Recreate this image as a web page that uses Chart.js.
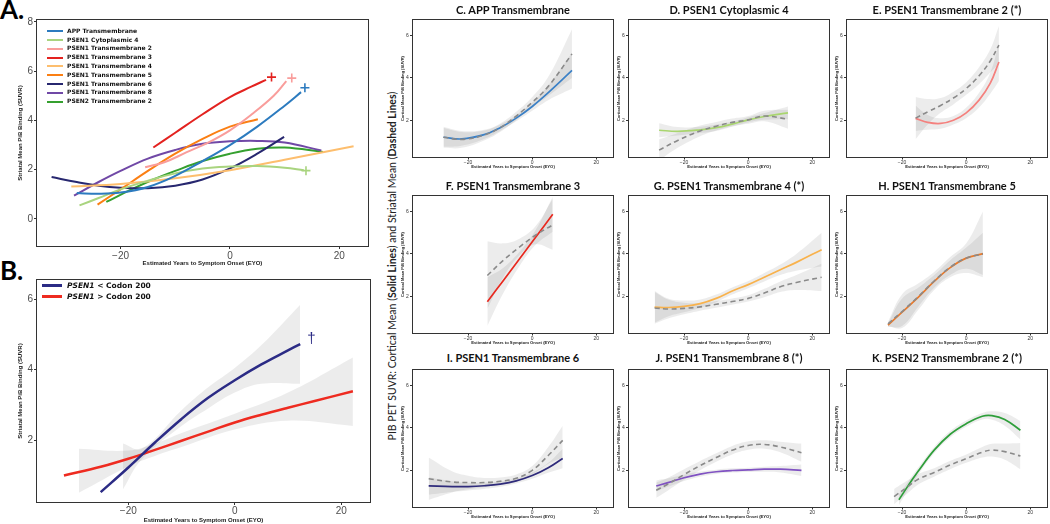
<!DOCTYPE html>
<html><head><meta charset="utf-8">
<script src="https://cdn.jsdelivr.net/npm/chart.js@4.4.1/dist/chart.umd.min.js"></script>
<style>
html,body{margin:0;padding:0;background:#fff}
body{width:1050px;height:524px;position:relative;overflow:hidden}
.cw{position:absolute}
.lbl{position:absolute;font-family:Lato,sans-serif;font-weight:700;font-size:26px;line-height:26px;color:#000}
.ttl{position:absolute;font-family:Lato,sans-serif;font-weight:700;font-size:11px;line-height:12px;text-align:center;color:#111;white-space:nowrap}
.leg{position:absolute;font-family:'DejaVu Sans',sans-serif;font-weight:700;color:#111;white-space:nowrap}
.leg .row{position:relative}
.leg .sw{position:absolute;left:0;display:block}
#ylab{position:absolute;font-family:Lato,sans-serif;font-size:10.5px;line-height:12px;white-space:nowrap;color:#222;transform:translate(-50%,-50%) rotate(-90deg)}
</style></head><body>
<div class="lbl" style="left:0;top:-4px">A.</div>
<div class="lbl" style="left:0;top:257px">B.</div>
<div id="ylab" style="left:392px;top:266px">PIB PET SUVR: Cortical Mean (<b>Solid Lines</b>) and Striatal Mean (<b>Dashed Lines</b>)</div>
<script>
// ---------- tick values ----------
const X_TICKS = [-20, 0, 20];
const Y_TICKS_A = [0, 2, 4, 6, 8];
const Y_TICKS_B = [2, 4, 6];
const Y_TICKS_SMALL = [2, 4, 6];

// ---------- Panel A (striatal mean, all groups) ----------
const A_NAMES = ['APP Transmembrane','PSEN1 Cytoplasmic 4','PSEN1 Transmembrane 2','PSEN1 Transmembrane 3','PSEN1 Transmembrane 4','PSEN1 Transmembrane 5','PSEN1 Transmembrane 6','PSEN1 Transmembrane 8','PSEN2 Transmembrane 2'];
const A_APP_X = [-28,-24,-20,-15,-10,-5,0,5,10,13];
const A_APP_Y = [1.05,1.02,1.07,1.3,1.75,2.35,3.0,3.75,4.6,5.15];
const A_CYT_X = [-27.5,-24,-20,-15,-10,-5,0,5,10,13.5];
const A_CYT_Y = [0.55,0.85,1.2,1.55,1.85,2.05,2.13,2.15,2.08,1.98];
const A_TM2_X = [-15.5,-12,-8,-4,0,4,8,10.3];
const A_TM2_Y = [2.1,2.3,2.7,3.1,3.6,4.25,5.0,5.6];
const A_TM3_X = [-14,-10,-5,0,4,6.6];
const A_TM3_Y = [2.9,3.5,4.25,4.95,5.38,5.65];
const A_TM4_X = [-29,-20,-10,0,10,22.6];
const A_TM4_Y = [1.32,1.42,1.65,1.98,2.4,2.95];
const A_TM5_X = [-24.2,-20,-15,-10,-5,0,5.1];
const A_TM5_Y = [0.58,1.2,1.95,2.65,3.25,3.75,4.05];
const A_TM6_X = [-32.6,-28,-24,-20,-15,-10,-5,0,5,9.9];
const A_TM6_Y = [1.7,1.5,1.35,1.27,1.25,1.35,1.6,2.05,2.65,3.33];
const A_TM8_X = [-28.5,-24,-20,-15,-10,-5,0,5,10,16.7];
const A_TM8_Y = [0.95,1.5,1.95,2.45,2.8,3.05,3.15,3.17,3.1,2.78];
const A_PS2_X = [-22.6,-18,-14,-10,-5,0,5,10,17];
const A_PS2_Y = [0.69,1.2,1.6,1.95,2.35,2.65,2.85,2.9,2.72];
const A_PLUS_X = [13.7,13.9,11.3,7.6];
const A_PLUS_Y = [5.33,1.96,5.72,5.76];

// ---------- Panel B ----------
const B_NAMES = ['PSEN1 < Codon 200','PSEN1 > Codon 200'];
const B_LOW_X = [-25.2,-20,-15,-10,-5,0,5,10,12.3];
const B_LOW_Y = [0.52,1.22,1.93,2.6,3.2,3.7,4.15,4.55,4.73];
const B_LOW_BX = [-21,-17.5,-10,-5,0,5,12.3];
const B_LOW_LO = [0.6,1.45,2.4,2.9,3.35,3.6,3.6];
const B_LOW_HI = [1.9,1.75,2.85,3.5,4.05,4.7,5.85];
const B_HIGH_X = [-32.1,-25,-20,-15,-10,-5,0,5,10,15,22.2];
const B_HIGH_Y = [0.99,1.25,1.47,1.72,1.98,2.24,2.5,2.72,2.92,3.11,3.39];
const B_HIGH_BX = [-29.3,-20,-15,-10,0,10,22.2];
const B_HIGH_LO = [0.5,1.25,1.55,1.8,2.3,2.55,2.4];
const B_HIGH_HI = [1.75,1.7,1.9,2.2,2.75,3.35,4.35];
const B_DAGGER = [14.4, 4.87];

// ---------- Panels C-K (cortical solid, striatal dashed) ----------
const SMALL_TITLES = ['C. APP Transmembrane','D. PSEN1 Cytoplasmic 4','E. PSEN1 Transmembrane 2 (*)','F. PSEN1 Transmembrane 3','G. PSEN1 Transmembrane 4 (*)','H. PSEN1 Transmembrane 5','I. PSEN1 Transmembrane 6','J. PSEN1 Transmembrane 8 (*)','K. PSEN2 Transmembrane 2 (*)'];

const C_X = [-27.7,-22,-15,-10,-5,0,5,12.4];
const C_S = [1.2,1.12,1.32,1.65,2.1,2.65,3.3,4.35];
const C_S_LO = [0.75,0.8,1.12,1.5,1.95,2.45,2.95,3.5];
const C_S_HI = [1.65,1.45,1.52,1.8,2.25,2.85,3.65,5.2];
const C_D = [1.2,1.1,1.3,1.65,2.2,2.85,3.6,5.13];
const C_D_LO = [0.7,0.7,1.05,1.45,2.0,2.6,3.15,4.0];
const C_D_HI = [1.7,1.5,1.55,1.85,2.4,3.1,4.05,6.3];

const D_X = [-27.8,-22,-15,-10,-5,0,5,12.4];
const D_S = [1.53,1.48,1.55,1.65,1.82,2.02,2.18,2.35];
const D_S_LO = [1.2,1.28,1.4,1.5,1.7,1.9,2.02,2.05];
const D_S_HI = [1.86,1.68,1.7,1.8,1.94,2.14,2.34,2.65];
const D_D = [0.59,1.05,1.5,1.72,1.9,2.02,2.2,2.05];
const D_D_LO = [0.1,0.7,1.25,1.52,1.72,1.84,1.95,1.6];
const D_D_HI = [1.1,1.4,1.75,1.92,2.08,2.2,2.45,2.5];

const E_X = [-15.8,-12,-8,-4,0,4,7.5,10.2];
const E_S = [2.09,1.9,1.85,2.0,2.35,2.95,3.75,4.75];
const E_S_LO = [1.5,1.55,1.6,1.8,2.1,2.6,3.25,3.85];
const E_S_HI = [2.7,2.25,2.1,2.2,2.6,3.3,4.25,5.65];
const E_D = [2.1,2.4,2.7,3.05,3.5,4.1,4.8,5.55];
const E_D_LO = [1.1,1.8,2.35,2.75,3.2,3.7,4.25,4.65];
const E_D_HI = [3.1,3.0,3.05,3.35,3.8,4.5,5.35,6.45];

const F_X = [-14,-9,-4,1,6.4];
const F_S = [1.74,2.75,3.76,4.77,5.87];
const F_S_LO = [0.6,2.15,3.42,4.42,5.05];
const F_S_HI = [2.9,3.35,4.1,5.12,6.7];
const F_D = [2.98,3.7,4.32,4.88,5.37];
const F_D_LO = [1.4,2.9,3.92,4.45,4.2];
const F_D_HI = [4.6,4.5,4.72,5.3,6.6];

const G_X = [-29.2,-25,-20,-15,-10,-5,0,5,10,15,22.9];
const G_S = [1.49,1.47,1.52,1.65,1.9,2.25,2.55,2.9,3.25,3.6,4.2];
const G_S_LO = [0.75,1.05,1.25,1.45,1.72,2.08,2.38,2.7,3.0,3.2,3.4];
const G_S_HI = [2.25,1.9,1.8,1.85,2.08,2.42,2.72,3.1,3.5,4.0,5.0];
const G_D = [1.45,1.4,1.43,1.5,1.62,1.75,1.9,2.15,2.45,2.65,2.9];
const G_D_LO = [0.7,0.95,1.15,1.32,1.46,1.6,1.75,1.95,2.2,2.3,2.25];
const G_D_HI = [2.2,1.85,1.7,1.68,1.78,1.9,2.05,2.35,2.7,3.0,3.55];

const H_X = [-24.4,-20,-15,-10,-5,0,5.2];
const H_S = [0.64,1.25,1.95,2.7,3.35,3.8,4.01];
const H_S_LO = [0.55,0.6,1.5,2.4,3.0,3.3,3.0];
const H_S_HI = [0.73,1.9,2.4,3.0,3.7,4.3,5.0];
const H_D = [0.7,1.28,1.98,2.72,3.37,3.8,4.0];
const H_D_LO = [0.6,0.5,1.35,2.3,2.9,3.1,2.9];
const H_D_HI = [0.8,2.1,2.6,3.15,3.85,4.5,6.0];

const I_X = [-32.3,-25,-20,-15,-10,-5,0,5,9.5];
const I_S = [1.26,1.23,1.23,1.27,1.35,1.5,1.75,2.12,2.56];
const I_S_LO = [0.85,0.98,1.05,1.12,1.22,1.38,1.6,1.88,2.1];
const I_S_HI = [1.67,1.48,1.41,1.42,1.48,1.62,1.9,2.36,3.02];
const I_D = [1.6,1.45,1.42,1.42,1.48,1.62,2.0,2.7,3.41];
const I_D_LO = [0.6,0.95,1.1,1.2,1.3,1.45,1.8,2.3,2.6];
const I_D_HI = [2.6,1.95,1.74,1.64,1.66,1.8,2.2,3.1,4.1];

const J_X = [-28.7,-25,-20,-15,-10,-5,0,5,10,16.6];
const J_S = [1.26,1.42,1.65,1.82,1.93,1.99,2.02,2.05,2.05,2.0];
const J_S_LO = [1.0,1.22,1.5,1.7,1.83,1.89,1.92,1.93,1.9,1.73];
const J_S_HI = [1.52,1.62,1.8,1.94,2.03,2.09,2.12,2.17,2.2,2.27];
const J_D = [1.06,1.35,1.8,2.22,2.6,2.95,3.17,3.22,3.1,2.83];
const J_D_LO = [0.7,1.05,1.55,2.0,2.4,2.75,2.97,3.02,2.85,2.4];
const J_D_HI = [1.42,1.65,2.05,2.44,2.8,3.15,3.37,3.42,3.35,3.26];

const K_SX = [-21,-18,-15,-10,-5,0,5,8,12,16.9];
const K_S = [0.61,1.3,1.95,2.95,3.7,4.2,4.55,4.58,4.4,3.89];
const K_S_LO = [0.35,1.1,1.78,2.8,3.55,4.05,4.4,4.38,4.1,3.45];
const K_S_HI = [0.87,1.5,2.12,3.1,3.85,4.35,4.7,4.78,4.7,4.33];
const K_DX = [-22.5,-18,-15,-10,-5,0,5,8,12,16.9];
const K_D = [0.76,1.25,1.58,1.9,2.25,2.55,2.85,2.95,2.88,2.67];
const K_D_LO = [0.4,0.95,1.33,1.7,2.05,2.35,2.6,2.65,2.5,2.05];
const K_D_HI = [1.12,1.55,1.83,2.1,2.45,2.75,3.1,3.25,3.26,3.29];

// ---------- styles ----------
const A_COLORS = ['#2c7bbf','#a9d47f','#f99d9b','#e3221f','#fdbe6e','#fb7f13','#27276f','#7048a6','#35a02f'];
const A_PLUS_COLORS = ['#2c7bbf','#a9d47f','#f99d9b','#e3221f'];
const B_COLORS = ['#2b2b85','#ee2b20'];
const SMALL_COLORS = ['#3b80c6','#a9d56f','#f4817e','#e8291f','#f8b24d','#e9792a','#2f2b7b','#8052c2','#2e9e3a'];
const BAND = 'rgba(0,0,0,0.075)';
const DASH_COLOR = '#8a8a8a';

function pts(xs, ys){ return xs.map((x,i)=>({x:x, y:ys[i]})); }
function lineDs(xs, ys, color, w, dash, order){
  return {data:pts(xs,ys), borderColor:color, borderWidth:w, borderDash:dash||[], pointRadius:0, tension:0.4, fill:false, order:order};
}
function bandDs(xs, lo, hi){
  return [
    {data:pts(xs,lo), borderWidth:0, borderColor:'rgba(0,0,0,0)', pointRadius:0, tension:0.4, fill:false, order:5},
    {data:pts(xs,hi), borderWidth:0, borderColor:'rgba(0,0,0,0)', pointRadius:0, tension:0.4, fill:'-1', backgroundColor:BAND, order:5}
  ];
}
function fmt(v){ return v < 0 ? '\u2212' + Math.abs(v) : String(v); }

const boxPlugin = {id:'boxFrame', afterDatasetsDraw(chart, args, opts){
  const a = chart.chartArea, c = chart.ctx;
  c.save(); c.strokeStyle = opts.color || '#333'; c.lineWidth = opts.width || 1;
  c.strokeRect(Math.round(a.left)+0.5, Math.round(a.top)+0.5, Math.round(a.right-a.left)-1, Math.round(a.bottom-a.top)-1);
  c.restore();
}};

function xScale(min, max, ticks, o){
  return {type:'linear', position:'bottom', min:min, max:max,
    afterBuildTicks: s => { s.ticks = ticks.map(v => ({value:v})); },
    afterFit: s => { s.height = o.h; },
    grid:{display:true, drawOnChartArea:false, drawTicks:true, tickLength:o.tl, color:o.tc, lineWidth:1},
    border:{display:false},
    ticks:{font:{family:o.ff, size:o.fs}, color:o.fc, padding:o.pad, maxRotation:0, autoSkip:false, callback: v => fmt(v)},
    title:{display:true, text:o.title, font:{family:o.tf, size:o.ts, weight:o.tw}, color:'#1a1a1a', padding:{top:0, bottom:o.tpb}}
  };
}
function yScale(min, max, ticks, o){
  return {type:'linear', position:'left', min:min, max:max,
    afterBuildTicks: s => { s.ticks = ticks.map(v => ({value:v})); },
    afterFit: s => { s.width = o.w; },
    grid:{display:true, drawOnChartArea:false, drawTicks:true, tickLength:o.tl, color:o.tc, lineWidth:1},
    border:{display:false},
    ticks:{font:{family:o.ff, size:o.fs}, color:o.fc, padding:o.pad, autoSkip:false, callback: v => fmt(v)},
    title:{display:true, text:o.title, font:{family:o.tf, size:o.ts, weight:o.tw}, color:'#1a1a1a', padding:{top:o.tpt, bottom:0}}
  };
}

function makeChart(g, datasets, xs, ys, frame, extra){
  const W = g.yw + g.w + g.pr, H = g.pt + g.h + g.xh;
  const div = document.createElement('div'); div.className = 'cw';
  div.style.left = (g.l - g.yw) + 'px'; div.style.top = (g.t - g.pt) + 'px';
  div.style.width = W + 'px'; div.style.height = H + 'px';
  const cv = document.createElement('canvas'); cv.width = W; cv.height = H;
  div.appendChild(cv); document.body.appendChild(div);
  return new Chart(cv, {type:'line', data:{datasets:datasets},
    options:{responsive:false, animation:false, devicePixelRatio:1,
      layout:{padding:{top:g.pt, right:g.pr, left:0, bottom:0}},
      plugins:{legend:{display:false}, tooltip:{enabled:false}, boxFrame:frame},
      scales:{x:xs, y:ys}},
    plugins:[boxPlugin].concat(extra || [])});
}

// ---------- Panel A ----------
(function(){
  const series = [[A_APP_X,A_APP_Y],[A_CYT_X,A_CYT_Y],[A_TM2_X,A_TM2_Y],[A_TM3_X,A_TM3_Y],[A_TM4_X,A_TM4_Y],[A_TM5_X,A_TM5_Y],[A_TM6_X,A_TM6_Y],[A_TM8_X,A_TM8_Y],[A_PS2_X,A_PS2_Y]];
  const ds = series.map((s,i) => lineDs(s[0], s[1], A_COLORS[i], 2, [], 1));
  ds.push({type:'scatter', data:pts(A_PLUS_X, A_PLUS_Y), pointStyle:'cross', pointRadius:4.5, pointBorderWidth:1.6,
    pointBorderColor:A_PLUS_COLORS, pointBackgroundColor:A_PLUS_COLORS, showLine:false, order:0});
  const ax = {h:22, tl:2, tc:'#333', ff:'Liberation Sans', fs:10, fc:'#4d4d4d', pad:1,
    title:'Estimated Years to Symptom Onset (EYO)', tf:'Liberation Sans', ts:6, tw:'bold', tpb:1.8};
  const ay = {w:36, tl:2, tc:'#333', ff:'Liberation Sans', fs:10, fc:'#4d4d4d', pad:1,
    title:'Striatal Mean PiB Binding (SUVR)', tf:'Liberation Sans', ts:6, tw:'bold', tpt:16.4};
  makeChart({l:36, t:19, w:335, h:228, yw:36, pt:19, pr:4, xh:22}, ds,
    xScale(-35.45, 25.4, X_TICKS, ax), yScale(-1.14, 8.12, Y_TICKS_A, ay), {color:'#333', width:1});
  const leg = document.createElement('div'); leg.className = 'leg';
  leg.style.left = '47px'; leg.style.top = '26.9px'; leg.style.fontSize = '6px'; leg.style.lineHeight = '8.8px';
  A_NAMES.forEach((n,i) => {
    const r = document.createElement('div'); r.className = 'row'; r.style.paddingLeft = '20px'; r.style.height = '8.8px';
    const sw = document.createElement('i'); sw.className = 'sw';
    sw.style.top = '3.4px'; sw.style.width = '16px'; sw.style.height = '2px'; sw.style.background = A_COLORS[i];
    r.appendChild(sw); r.appendChild(document.createTextNode(n)); leg.appendChild(r);
  });
  document.body.appendChild(leg);
})();

// ---------- Panel B ----------
(function(){
  const ds = [
    lineDs(B_LOW_X, B_LOW_Y, B_COLORS[0], 2.5, [], 1),
    lineDs(B_HIGH_X, B_HIGH_Y, B_COLORS[1], 2.5, [], 1)
  ].concat(bandDs(B_LOW_BX, B_LOW_LO, B_LOW_HI)).concat(bandDs(B_HIGH_BX, B_HIGH_LO, B_HIGH_HI));
  const dagger = {id:'dagger', afterDatasetsDraw(chart){
    const c = chart.ctx, sx = chart.scales.x, sy = chart.scales.y;
    c.save(); c.fillStyle = B_COLORS[0]; c.font = '15px "Liberation Sans"'; c.textAlign = 'center'; c.textBaseline = 'middle';
    c.fillText('\u2020', sx.getPixelForValue(B_DAGGER[0]), sy.getPixelForValue(B_DAGGER[1])); c.restore();
  }};
  const ax = {h:21, tl:2, tc:'#333', ff:'Liberation Sans', fs:10, fc:'#4d4d4d', pad:0,
    title:'Estimated Years to Symptom Onset (EYO)', tf:'Liberation Sans', ts:6, tw:'bold', tpb:0.4};
  const ay = {w:36, tl:2, tc:'#333', ff:'Liberation Sans', fs:10, fc:'#4d4d4d', pad:1,
    title:'Striatal Mean PiB Binding (SUVR)', tf:'Liberation Sans', ts:6, tw:'bold', tpt:16.4};
  makeChart({l:36, t:276, w:335, h:227, yw:36, pt:4, pr:4, xh:21}, ds,
    xScale(-37.35, 25.6, X_TICKS, ax), yScale(0.21, 6.58, Y_TICKS_B, ay), {color:'#333', width:1}, [dagger]);
  const leg = document.createElement('div'); leg.className = 'leg';
  leg.style.left = '42px'; leg.style.top = '280.2px'; leg.style.fontSize = '7.5px'; leg.style.lineHeight = '11px';
  B_NAMES.forEach((n,i) => {
    const r = document.createElement('div'); r.className = 'row'; r.style.paddingLeft = '25px'; r.style.height = '11px';
    const sw = document.createElement('i'); sw.className = 'sw';
    sw.style.top = '4.2px'; sw.style.width = '20px'; sw.style.height = '2.6px'; sw.style.background = B_COLORS[i];
    const sp = n.indexOf(' ');
    const it = document.createElement('i'); it.textContent = n.slice(0, sp);
    r.appendChild(sw); r.appendChild(it); r.appendChild(document.createTextNode(n.slice(sp))); leg.appendChild(r);
  });
  document.body.appendChild(leg);
})();

// ---------- Panels C-K ----------
const SMALL = [
  [C_X,C_S,C_S_LO,C_S_HI,C_X,C_D,C_D_LO,C_D_HI],
  [D_X,D_S,D_S_LO,D_S_HI,D_X,D_D,D_D_LO,D_D_HI],
  [E_X,E_S,E_S_LO,E_S_HI,E_X,E_D,E_D_LO,E_D_HI],
  [F_X,F_S,F_S_LO,F_S_HI,F_X,F_D,F_D_LO,F_D_HI],
  [G_X,G_S,G_S_LO,G_S_HI,G_X,G_D,G_D_LO,G_D_HI],
  [H_X,H_S,H_S_LO,H_S_HI,H_X,H_D,H_D_LO,H_D_HI],
  [I_X,I_S,I_S_LO,I_S_HI,I_X,I_D,I_D_LO,I_D_HI],
  [J_X,J_S,J_S_LO,J_S_HI,J_X,J_D,J_D_LO,J_D_HI],
  [K_SX,K_S,K_S_LO,K_S_HI,K_DX,K_D,K_D_LO,K_D_HI]
];
const COL_L = [412, 628, 846];
const ROW_T = [18, 194, 368];
const TITLE_Y = [10, 186, 358.3];
SMALL.forEach((p, k) => {
  const col = k % 3, row = Math.floor(k / 3);
  const ds = [
    lineDs(p[4], p[5], DASH_COLOR, 1.6, [5, 3.5], 0),
    lineDs(p[0], p[1], SMALL_COLORS[k], 1.7, [], 1)
  ].concat(bandDs(p[0], p[2], p[3])).concat(bandDs(p[4], p[6], p[7]));
  const ax = {h:14, tl:1.5, tc:'#333', ff:'Liberation Sans', fs:5, fc:'#333', pad:0,
    title:'Estimated Years to Symptom Onset (EYO)', tf:'Liberation Sans', ts:4.2, tw:'bold', tpb:2.2};
  const ay = {w:14, tl:2, tc:'#333', ff:'Liberation Sans', fs:5, fc:'#333', pad:1.2,
    title:'Cortical Mean PiB Binding (SUVR)', tf:'Liberation Sans', ts:4, tw:'bold', tpt:2.3};
  makeChart({l:COL_L[col], t:ROW_T[row], w:202, h:140, yw:14, pt:3, pr:3, xh:14}, ds,
    xScale(-37.5, 25.5, X_TICKS, ax), yScale(0.22, 6.77, Y_TICKS_SMALL, ay), {color:'#333', width:1});
  const t = document.createElement('div'); t.className = 'ttl';
  t.style.left = COL_L[col] + 'px'; t.style.width = '202px'; t.style.top = (TITLE_Y[row] - 6) + 'px';
  t.textContent = SMALL_TITLES[k];
  document.body.appendChild(t);
});
</script>
</body></html>
